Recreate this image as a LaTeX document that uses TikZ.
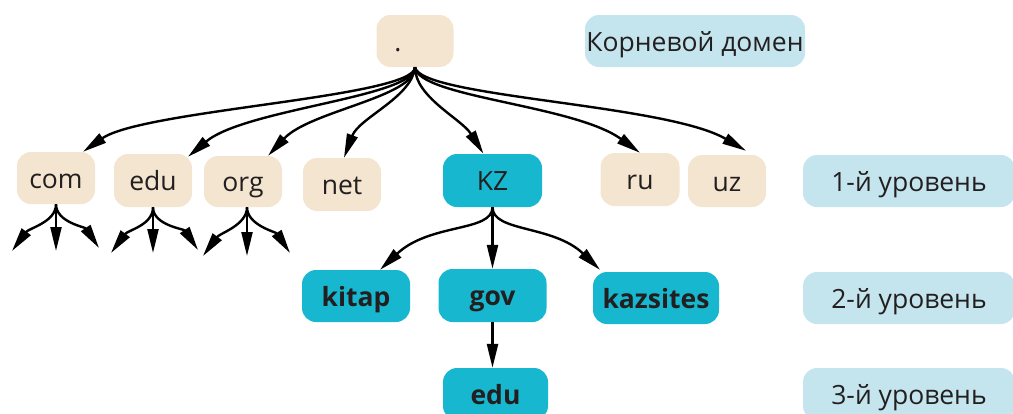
\documentclass[tikz,border=0pt]{standalone}
\usepackage{fontspec}
\setmainfont{Open Sans}
\usetikzlibrary{arrows.meta,calc}
\definecolor{beige}{HTML}{F3E5CF}
\definecolor{kzblue}{HTML}{17B8CF}
\definecolor{lvlblue}{HTML}{C5E5EE}
\definecolor{txt}{HTML}{231F20}
\begin{document}
\begin{tikzpicture}[x=1pt,y=-1pt,
  box/.style={rounded corners=14pt, inner sep=0pt, text=txt, font=\fontsize{26.5}{30}\selectfont, minimum height=52pt, text height=20pt, text depth=0pt},
  tld/.style={box, fill=beige, minimum width=78pt},
  kz/.style={box, fill=kzblue},
  kzb/.style={kz, font=\fontsize{26.5}{30}\selectfont\bfseries},
  lvl/.style={box, fill=lvlblue, minimum width=212pt},
  arr/.style={line width=2.4pt, -{Triangle[length=24pt,width=11pt]}}
]
\useasboundingbox (0,0) rectangle (1013,413);
\clip (0,0) rectangle (1013,413);
% nodes
\node[tld, minimum width=77pt] (root) at (415,41) {.\rule{34pt}{0pt}};
\node[lvl, minimum width=220pt] (kor) at (695,41) {Корневой домен};
\node[tld] (com) at (56,178) {com};
\node[tld, minimum height=53pt] (edu) at (153,180.5) {edu};
\node[tld, minimum height=51pt] (org) at (243,181.5) {org};
\node[tld, minimum height=53pt] (net) at (342,184.5) {net};
\node[kz, minimum width=99pt, minimum height=53pt] (KZ) at (492.5,180.5) {KZ};
\node[tld, minimum width=79pt, minimum height=53pt] (ru) at (640,179.5) {ru};
\node[tld] (uz) at (727,181) {uz};
\node[lvl] (l1) at (909,181) {1-й уровень};
\node[kzb, minimum width=108pt] (kitap) at (356,296) {kitap};
\node[kzb, minimum width=108pt, minimum height=53pt] (gov) at (492.5,295.5) {gov};
\node[kzb, minimum width=126pt] (kazsites) at (656,298) {kazsites};
\node[lvl] (l2) at (909,298) {2-й уровень};
\node[kzb, minimum width=105pt] (edu2) at (495.5,394) {edu};
\node[lvl] (l3) at (909,394) {3-й уровень};
% free ends
\coordinate (comL) at (12,251);
\coordinate (comM) at (56,251);
\coordinate (comR) at (99,248);
\coordinate (eduL) at (111,253);
\coordinate (eduM) at (153,253);
\coordinate (eduR) at (198,250);
\coordinate (orgL) at (203,256);
\coordinate (orgM) at (247,256);
\coordinate (orgR) at (290,253);
% root arrows
\draw[arr] (root.south) .. controls +(0,30) and +(60,-42) .. ($(com.north)+(27,0)$);
\draw[arr] (root.south) .. controls +(0,30) and +(57,-48) .. ($(edu.north)+(35,3)$);
\draw[arr] (root.south) .. controls +(0,30) and +(42,-45) .. ($(org.north)+(25,0)$);
\draw[arr] (root.south) .. controls +(-3,30) and +(15,-40) .. ($(net.north)+(2,0)$);
\draw[arr] (root.south) .. controls +(0,30) and +(-22,-35) .. ($(KZ.north)+(-9,0)$);
\draw[arr] (root.south) .. controls +(3,30) and +(-66,-48) .. (ru.north);
\draw[arr] (root.south) .. controls +(5,30) and +(-80,-47) .. ($(uz.north)+(19,-4)$);
% fans
\draw[arr] (com.south) .. controls +(0,18) and +(17,-23) .. (comL);
\draw[arr] (com.south) -- (comM);
\draw[arr] (com.south) .. controls +(0,18) and +(-14,-21) .. (comR);
\draw[arr] (edu.south) .. controls +(0,18) and +(17,-23) .. (eduL);
\draw[arr] (edu.south) -- (eduM);
\draw[arr] (edu.south) .. controls +(0,18) and +(-14,-21) .. (eduR);
\draw[arr] ($(org.south)+(4,0)$) .. controls +(0,18) and +(17,-23) .. (orgL);
\draw[arr] ($(org.south)+(4,0)$) -- (orgM);
\draw[arr] ($(org.south)+(4,0)$) .. controls +(0,18) and +(-14,-21) .. (orgR);
% KZ children
\draw[arr] (KZ.south) .. controls +(0,25) and +(50,-47) .. ($(kitap.north)+(24,0)$);
\draw[arr] (KZ.south) -- (gov.north);
\draw[arr] (KZ.south) .. controls +(0,25) and +(-47,-45) .. ($(kazsites.north)+(-56,-2)$);
\draw[arr] (gov.south) -- (gov.south |- edu2.north);
\end{tikzpicture}
\end{document}
